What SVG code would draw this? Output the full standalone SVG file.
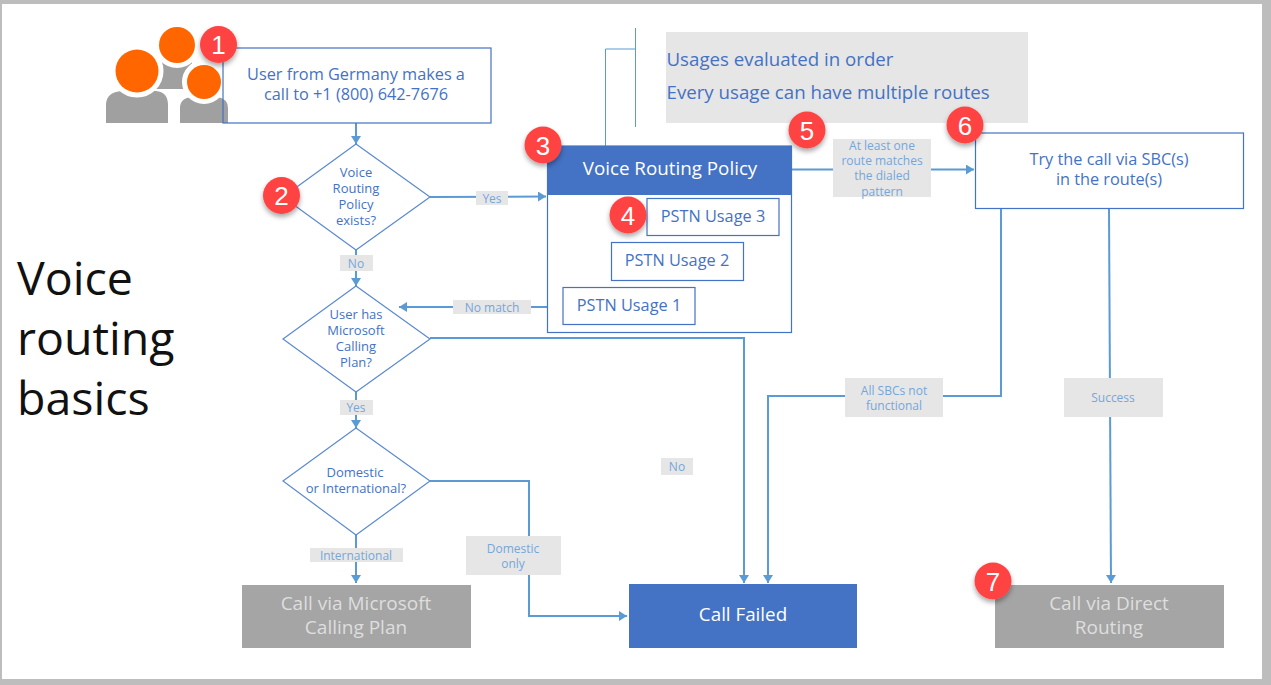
<svg xmlns="http://www.w3.org/2000/svg" width="1271" height="685" viewBox="0 0 1271 685">
<defs>
<marker id="arr" markerUnits="userSpaceOnUse" markerWidth="9" markerHeight="10" refX="8" refY="5" orient="auto"><path d="M0,0L8,5L0,10Z" fill="#5b9bd5"/></marker>
<filter id="sh" x="-30%" y="-30%" width="160%" height="170%"><feDropShadow dx="0" dy="3" stdDeviation="2.5" flood-color="#000" flood-opacity="0.35"/></filter>
</defs>
<style>
text{font-family:"Open Sans","Noto Sans","Liberation Sans",sans-serif;text-anchor:middle}
.box{fill:#fff;stroke:#4472c4;stroke-width:1.2}
.dia{fill:#fff;stroke:#5a8ad0;stroke-width:1.2}
.t{fill:#4472c4;font-size:16.3px}
.d{fill:#4472c4;font-size:13px}
.lb{fill:#e6e6e6}
.l{fill:#74a7dc;font-size:12px}
.c{fill:none;stroke:#5b9bd5;stroke-width:2}
.a{marker-end:url(#arr)}
.badge{fill:#ff4343;filter:url(#sh)}
.n{fill:#fff;font-size:26px;font-family:"Liberation Sans",Arial,sans-serif}
.w{fill:#fff;font-size:18.8px}
.g{fill:#dedede;font-size:19px}
.s{fill:#4472c4;font-size:18.7px;text-anchor:start}
.head{fill:#ff6600;stroke:#fff;stroke-width:10;paint-order:stroke}
</style>
<rect width="1271" height="685" fill="#fff"/>
<g id="frame" fill="#bdbdbd"><rect width="1271" height="4"/><rect x="1262" width="9" height="685"/><rect y="679" width="1271" height="6"/><rect width="2" height="685"/></g>
<text id="title" font-size="46.500" style="text-anchor:start;fill:#111"><tspan x="17" y="295">Voice</tspan><tspan x="17" y="355">routing</tspan><tspan x="17" y="415">basics</tspan></text>
<g id="connectors">
<path class="c a" d="M356,123V144"/>
<path class="c a" d="M430,197L546,196.500"/>
<path class="c a" d="M356,250V286"/>
<path class="c a" d="M547,307H399"/>
<path class="c a" d="M356,392V428"/>
<path class="c a" d="M356,535V583"/>
<path class="c a" d="M430,481H529V616H627"/>
<path class="c a" d="M430,338H744V583"/>
<path class="c a" d="M1001,209V396H768V583"/>
<path class="c a" d="M1109,209L1111,583"/>
<path class="c a" d="M792,169.500H974"/>
<path d="M605.500,146V49H635.500M635.500,28V127" fill="none" stroke="#5b9bd5" stroke-width="1"/>
</g>
<g id="users">
<path d="M106,123V105Q106,92 122,91H156Q168,92 168,105V123Z" fill="#a0a0a0"/>
<path d="M180,123V108Q180,98 192,97H218Q228,99 228,108V123Z" fill="#a0a0a0"/>
<rect x="155" y="60" width="37" height="29" fill="#a0a0a0"/>
<circle class="head" cx="137" cy="71" r="21.500"/>
<circle class="head" cx="177" cy="45" r="18"/>
<circle class="head" cx="204" cy="82" r="17"/>
</g>
<g id="start"><rect class="box" x="223" y="48" width="268" height="75" style="fill:none"/><text class="t"><tspan x="356" y="80">User from Germany makes a</tspan><tspan x="356" y="100">call to +1 (800) 642-7676</tspan></text></g>
<g id="d1"><path class="dia" d="M356,144L430,197L356,250L283,197Z"/><text class="d"><tspan x="356" y="177">Voice</tspan><tspan x="356" y="193">Routing</tspan><tspan x="356" y="209">Policy</tspan><tspan x="356" y="225">exists?</tspan></text></g>
<g id="d2"><path class="dia" d="M356,286L430,339L356,392L283,339Z"/><text class="d"><tspan x="356" y="319">User has</tspan><tspan x="356" y="335">Microsoft</tspan><tspan x="356" y="351">Calling</tspan><tspan x="356" y="367">Plan?</tspan></text></g>
<g id="d3"><path class="dia" d="M356,428L430,481L356,535L283,481Z"/><text class="d"><tspan x="355" y="477">Domestic</tspan><tspan x="356" y="493">or International?</tspan></text></g>
<g id="policy"><rect class="box" x="547.500" y="146" width="244" height="186.500"/><rect x="547.500" y="146" width="244" height="49" fill="#4472c4"/><text class="w" x="670" y="175">Voice Routing Policy</text></g>
<g id="usage3"><rect class="box" x="647" y="198.500" width="132" height="37"/><text class="t" x="713" y="222">PSTN Usage 3</text></g>
<g id="usage2"><rect class="box" x="611.500" y="242.500" width="132" height="38"/><text class="t" x="677" y="266">PSTN Usage 2</text></g>
<g id="usage1"><rect class="box" x="563" y="287.500" width="132" height="37"/><text class="t" x="629" y="311">PSTN Usage 1</text></g>
<g id="note"><rect x="666" y="32" width="362" height="91" fill="#e6e6e6"/><text class="s"><tspan x="666.500" y="66">Usages evaluated in order</tspan><tspan x="666.500" y="99">Every usage can have multiple routes</tspan></text></g>
<g id="try"><rect class="box" x="975.500" y="133" width="268" height="75.500"/><text class="t"><tspan x="1109" y="165">Try the call via SBC(s)</tspan><tspan x="1109" y="185">in the route(s)</tspan></text></g>
<g id="ms"><rect x="242" y="585" width="229" height="63" fill="#a5a5a5"/><text class="g"><tspan x="356" y="610">Call via Microsoft</tspan><tspan x="356" y="634">Calling Plan</tspan></text></g>
<g id="failed"><rect x="629" y="584" width="228" height="64" fill="#4472c4"/><text class="w" x="743" y="621">Call Failed</text></g>
<g id="direct"><rect x="995" y="585" width="229" height="63" fill="#a5a5a5"/><text class="g"><tspan x="1109" y="610">Call via Direct</tspan><tspan x="1109" y="634">Routing</tspan></text></g>
<g id="labels">
<rect class="lb" x="476" y="191" width="32" height="14"/><text class="l" x="492" y="202.500">Yes</text>
<rect class="lb" x="340" y="255" width="33" height="16"/><text class="l" x="356" y="267.500">No</text>
<rect class="lb" x="453" y="300" width="78" height="14"/><text class="l" x="492" y="311.500">No match</text>
<rect class="lb" x="340" y="400" width="33" height="15"/><text class="l" x="356" y="411.500">Yes</text>
<rect class="lb" x="310" y="548" width="93" height="14"/><text class="l" x="356" y="559.500">International</text>
<rect class="lb" x="466" y="536" width="95" height="39"/><text class="l"><tspan x="513" y="552.500">Domestic</tspan><tspan x="513" y="567.500">only</tspan></text>
<rect class="lb" x="661" y="458" width="32" height="17"/><text class="l" x="677" y="470.500">No</text>
<rect class="lb" x="833" y="139" width="98" height="58"/><text class="l"><tspan x="882" y="149.500">At least one</tspan><tspan x="882" y="164.500">route matches</tspan><tspan x="882" y="179.500">the dialed</tspan><tspan x="882" y="195.500">pattern</tspan></text>
<rect class="lb" x="845" y="378" width="98" height="39"/><text class="l"><tspan x="894" y="394.500">All SBCs not</tspan><tspan x="894" y="409.500">functional</tspan></text>
<rect class="lb" x="1064" y="378" width="99" height="39"/><text class="l" x="1113" y="401.500">Success</text>
</g>
<g id="b1"><circle class="badge" cx="218.500" cy="44.500" r="18.500"/><text class="n" x="218.500" y="54">1</text></g>
<g id="b2"><circle class="badge" cx="281.500" cy="195.500" r="18.500"/><text class="n" x="281.500" y="205">2</text></g>
<g id="b3"><circle class="badge" cx="543" cy="145" r="18.500"/><text class="n" x="543" y="154.500">3</text></g>
<g id="b4"><circle class="badge" cx="628" cy="215" r="18.500"/><text class="n" x="628" y="224.500">4</text></g>
<g id="b5"><circle class="badge" cx="807" cy="130" r="18.500"/><text class="n" x="807" y="139.500">5</text></g>
<g id="b6"><circle class="badge" cx="965" cy="125" r="18.500"/><text class="n" x="965" y="134.500">6</text></g>
<g id="b7"><circle class="badge" cx="993" cy="581" r="18.500"/><text class="n" x="993" y="590.500">7</text></g>
</svg>
